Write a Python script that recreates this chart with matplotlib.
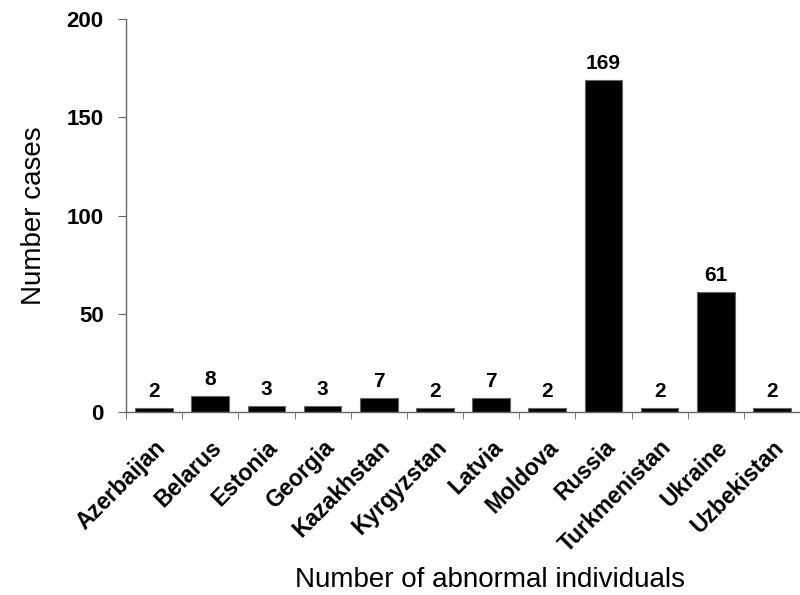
import numpy as np
import matplotlib.pyplot as plt
import matplotlib.transforms as mtransforms

countries = ['Azerbaijan', 'Belarus', 'Estonia', 'Georgia', 'Kazakhstan', 'Kyrgyzstan',
             'Latvia', 'Moldova', 'Russia', 'Turkmenistan', 'Ukraine', 'Uzbekistan']
cases = [2, 8, 3, 3, 7, 2, 7, 2, 169, 2, 61, 2]

plt.rcParams['font.family'] = ['Liberation Sans', 'DejaVu Sans']

fig = plt.figure(figsize=(8, 5.95), dpi=100)
ax = fig.add_axes([0.1575, 0.3076, 0.8425, 0.6604])

x = np.arange(len(countries))
ax.bar(x, cases, width=0.67, color='black', edgecolor='#666666', linewidth=0.8)

# value labels on top of the bars
for xi, v in zip(x, cases):
    ax.annotate(str(v), (xi, v), xytext=(0, 5), textcoords='offset points',
                ha='center', va='bottom', fontsize=15, fontweight='bold')

ax.set_xlim(-0.5, 11.1)
ax.set_ylim(0, 200)
ax.set_yticks([0, 50, 100, 150, 200])
ax.set_xticks(x)
ax.set_xticklabels(countries, rotation=45, ha='right', rotation_mode='anchor',
                   fontsize=16.5, fontweight='bold')
shift = mtransforms.ScaledTranslation(5 / 100, 0, fig.dpi_scale_trans)
for lbl in ax.get_xticklabels():
    lbl.set_transform(lbl.get_transform() + shift)
# ticks between the bars
ax.set_xticks(np.arange(-0.5, 12, 1), minor=True)
ax.tick_params(axis='x', which='major', length=0, pad=17)
ax.tick_params(axis='x', which='minor', length=5, direction='out', color='#666666')
ax.tick_params(axis='y', length=6, direction='out', color='#666666', labelsize=16, pad=10)
for lbl in ax.get_yticklabels():
    lbl.set_fontweight('bold')

for s in ['top', 'right']:
    ax.spines[s].set_visible(False)
for s in ['left', 'bottom']:
    ax.spines[s].set_color('#666666')
    ax.spines[s].set_linewidth(1.0)

ax.set_ylabel('Number cases', fontsize=20, labelpad=14)
ax.set_xlabel('Number of abnormal individuals', fontsize=20)
ax.xaxis.label.set_va('center')
ax.xaxis.set_label_coords(0.54, -0.427)

plt.savefig('out.png')
